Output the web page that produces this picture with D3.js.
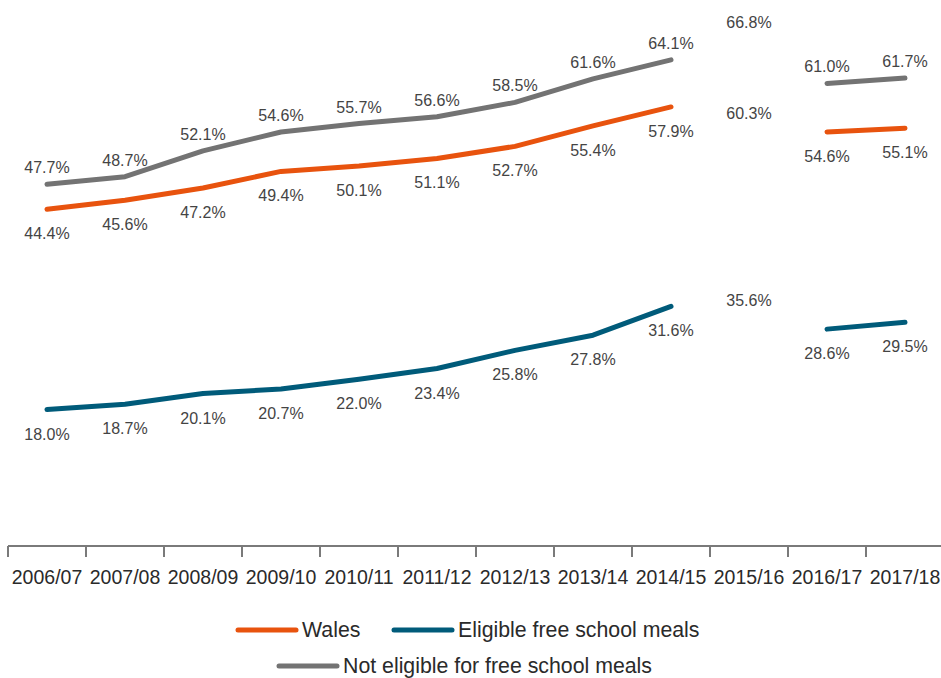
<!DOCTYPE html>
<html>
<head>
<meta charset="utf-8">
<script src="https://cdn.jsdelivr.net/npm/d3@7"></script>
<style>
  body { margin: 0; background: #fff; }
  svg { display: block; font-family: 'Liberation Sans', Arial, sans-serif; }
  .val-label { font-size: 16px; fill: #444; text-anchor: middle; }
  .x-axis text { font-size: 19.5px; fill: #2a2a2a; }
  .legend-label { font-size: 21.3px; fill: #2a2a2a; }
</style>
</head>
<body>
<div id="content"></div>
<script>
const YEARS = ['2006/07', '2007/08', '2008/09', '2009/10', '2010/11', '2011/12',
    '2012/13', '2013/14', '2014/15', '2015/16', '2016/17', '2017/18'];
const WALES = [44.4, 45.6, 47.2, 49.4, 50.1, 51.1, 52.7, 55.4, 57.9, 60.3, 54.6, 55.1];
const FSM = [18.0, 18.7, 20.1, 20.7, 22.0, 23.4, 25.8, 27.8, 31.6, 35.6, 28.6, 29.5];
const NOT_FSM = [47.7, 48.7, 52.1, 54.6, 55.7, 56.6, 58.5, 61.6, 64.1, 66.8, 61.0, 61.7];
// year with no line drawn (series break)
const BREAK_YEAR = '2015/16';

var width = 941;
var height = 678;
var axisY = 546;

var series = [
    {name: 'Not eligible for free school meals', values: NOT_FSM, color: '#737373', above: true},
    {name: 'Wales', values: WALES, color: '#e8530e', above: false},
    {name: 'Eligible free school meals', values: FSM, color: '#005b7a', above: false},
];

var svg = d3.select('#content')
.append('svg')
.attr('width', width)
.attr('height', height);

var xScale = d3.scaleBand()
.domain(YEARS)
.range([8, 944]);

var yScale = d3.scaleLinear()
.domain([0, 72])
.range([axisY, 0]);

var line = d3.line()
.defined(function (d, i) {return YEARS[i] !== BREAK_YEAR})
.x(function (d, i) {return xScale(YEARS[i]) + xScale.bandwidth() / 2})
.y(function (d) {return yScale(d)});

// axis
var xAxis = d3.axisBottom()
.scale(xScale)
.tickSize(0)
.tickPadding(24);

var axisG = svg.append('g')
.attr('class', 'x-axis')
.attr('transform', 'translate(0, ' + axisY + ')')
.call(xAxis);
axisG.select('.domain').remove();

axisG.append('line')
.attr('x1', 8).attr('x2', width)
.attr('stroke', '#7a7a7a').attr('stroke-width', 2);

axisG.selectAll('.boundary')
.data(YEARS)
.enter()
.append('line')
.attr('class', 'boundary')
.attr('x1', function (d) {return xScale(d)})
.attr('x2', function (d) {return xScale(d)})
.attr('y1', 0).attr('y2', 11)
.attr('stroke', '#7a7a7a').attr('stroke-width', 2);

axisG.selectAll('text').attr('font-family', null).attr('font-size', null).attr('fill', null);

// lines
svg.selectAll('.series-line')
.data(series)
.enter()
.append('path')
.attr('class', 'series-line')
.attr('fill', 'none')
.attr('stroke', function (s) {return s.color})
.attr('stroke-width', 5)
.attr('stroke-linecap', 'round')
.attr('stroke-linejoin', 'round')
.attr('d', function (s) {return line(s.values)});

// value labels
series.forEach(function (s) {
    svg.selectAll(null)
    .data(s.values)
    .enter()
    .append('text')
    .attr('class', 'val-label')
    .attr('x', function (d, i) {return xScale(YEARS[i]) + xScale.bandwidth() / 2})
    .attr('y', function (d) {return yScale(d) + (s.above ? -11 : 30)})
    .text(function (d) {return d3.format('.1f')(d) + '%'});
});

// legend
var legendRows = [
    [{s: series[1], x: 236}, {s: series[2], x: 392}],
    [{s: series[0], x: 277}]
];
var legendY = [630, 666];

legendRows.forEach(function (row, r) {
    var g = svg.append('g').attr('transform', 'translate(0, ' + legendY[r] + ')');
    row.forEach(function (item) {
        g.append('line')
        .attr('x1', item.x + 2).attr('x2', item.x + 60)
        .attr('stroke', item.s.color)
        .attr('stroke-width', 5)
        .attr('stroke-linecap', 'round');
        g.append('text')
        .attr('class', 'legend-label')
        .attr('x', item.x + 66)
        .attr('y', 7)
        .text(item.s.name);
    });
});
</script>
</body>
</html>
